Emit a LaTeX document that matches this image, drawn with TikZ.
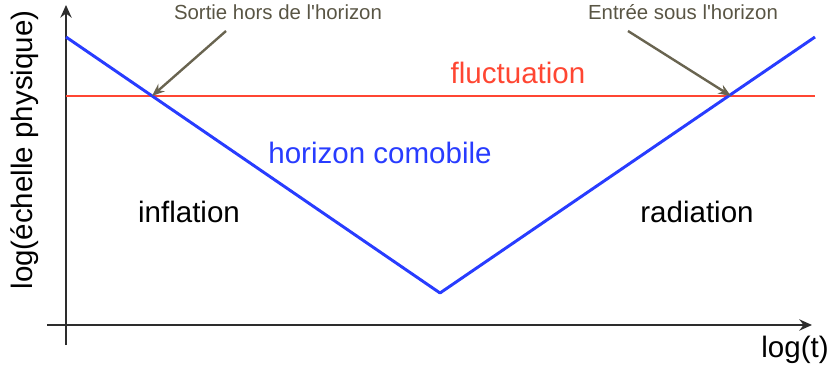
\documentclass[tikz,border=0pt]{standalone}
\usepackage{fontspec}
\setmainfont{Liberation Sans}[Ligatures=TeXOff]
\usetikzlibrary{arrows.meta, positioning}

\definecolor{horizblue}{RGB}{40,60,255}
\definecolor{flucred}{RGB}{255,70,50}
\definecolor{annotgray}{RGB}{105,100,80}
\definecolor{axisgray}{RGB}{45,45,45}

\begin{document}
\begin{tikzpicture}[x=0.025cm, y=-0.025cm,
  axis/.style={line width=2.1pt, draw=axisgray, -{Stealth[length=9pt, width=8pt, inset=3pt]}},
  curve/.style={line width=2.1pt},
  annot/.style={line width=1.7pt, draw=annotgray, -{Stealth[length=9pt, width=7pt]}},
  big/.style={font=\fontsize{21}{24}\selectfont, inner sep=0pt},
  small/.style={font=\fontsize{14.5}{17}\selectfont, text=annotgray!85!black, inner sep=0pt}
]
  \useasboundingbox (0,0) rectangle (829,374);

  % axes
  \coordinate (origin) at (66,325);
  \draw[axis] (66,345) -- (66,5);
  \draw[axis] (47,325) -- (812,325);

  % courbes
  \coordinate (start) at (66,37);
  \coordinate (sortie) at (152,96);
  \coordinate (bottom) at (440,293);
  \coordinate (entree) at (731,96);
  \coordinate (end) at (815,37);
  \draw[curve, flucred] (66,96) -- (815,96);
  \draw[curve, horizblue, line join=round] (start) -- (bottom) -- (end);

  % textes
  \node[big, text=flucred] (fluct) at (518,73) {fluctuation};
  \node[big, text=horizblue] (comob) at (380,153) {horizon comobile};
  \node[big] (infl) at (189,212) {inflation};
  \node[big] (rad) at (697,212) {radiation};
  \node[big] (tlab) at (795,350) {log(t)};
  \node[big, rotate=90] (ylab) at (25,150) {log(échelle physique)};

  % annotations
  \node[small] (lsortie) at (278,12) {Sortie hors de l'horizon};
  \node[small] (lentree) at (683,12) {Entrée sous l'horizon};
  \coordinate (s0) at (226,31);
  \coordinate (e0) at (628,31);
  \draw[annot] (s0) -- (sortie);
  \draw[annot] (e0) -- (entree);
\end{tikzpicture}
\end{document}
